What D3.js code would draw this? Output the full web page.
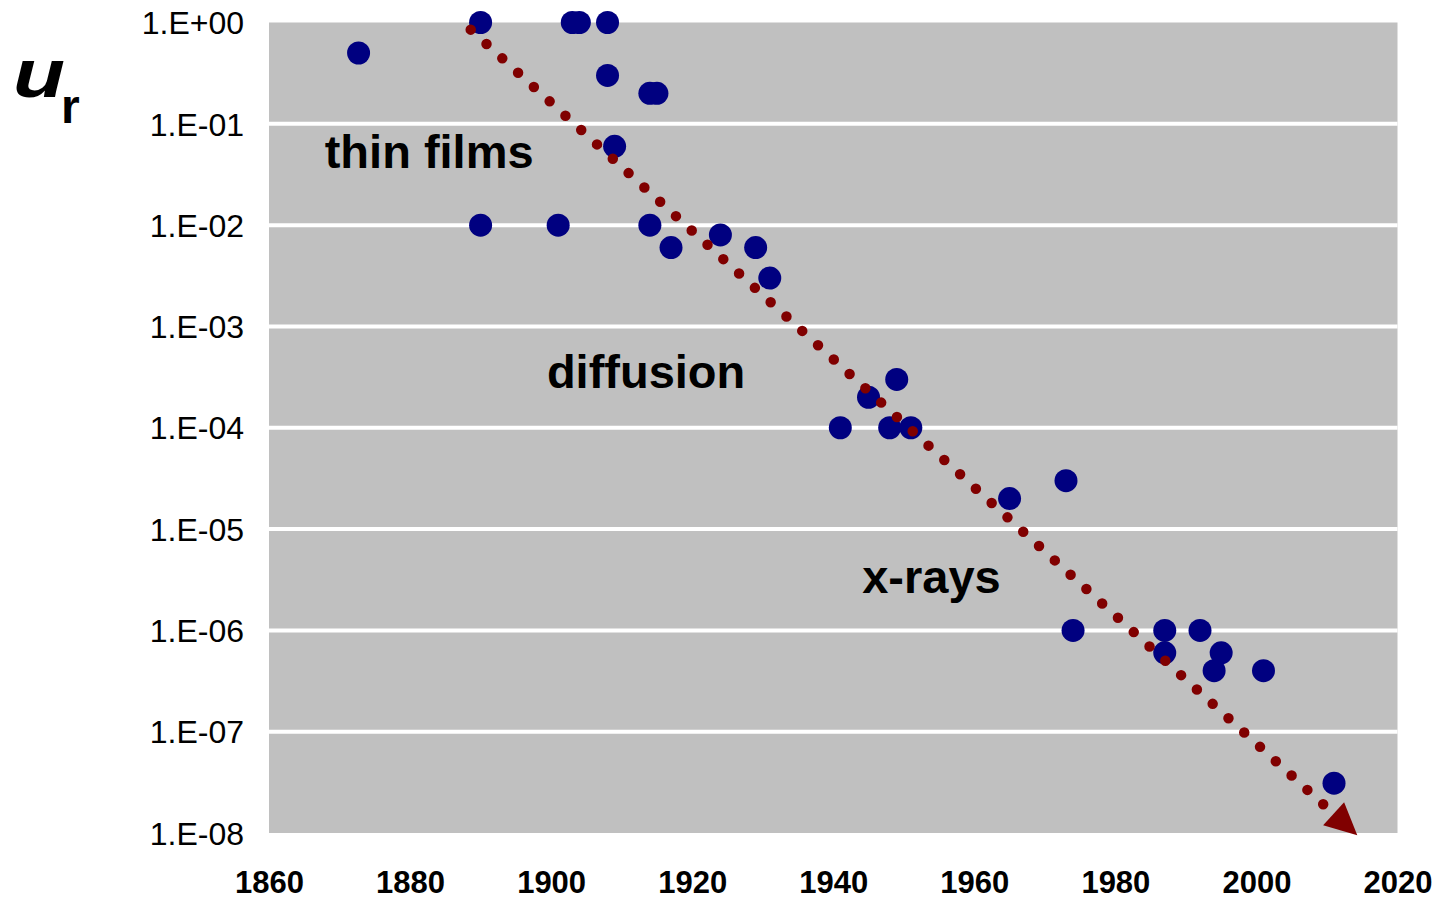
<!DOCTYPE html>
<html>
<head>
<meta charset="utf-8">
<script src="https://cdn.jsdelivr.net/npm/d3@7"></script>
<style>
  body { margin: 0; background: #fff; }
  svg { display: block; font-family: "Liberation Sans", Arial, sans-serif; }
</style>
</head>
<body>
<div id="chart"></div>
<script>
// ---------------------------------------------------------
// DATA
// ---------------------------------------------------------
const years = [1872.7, 1890, 1903, 1904, 1908, 1908, 1914, 1915, 1909,
               1890, 1901, 1914, 1917, 1924, 1929, 1931,
               1941, 1945, 1949, 1948, 1951, 1965, 1973,
               1974, 1987, 1987, 1992, 1995, 1994, 2001, 2011];
const ur = [0.5, 1, 1, 1, 1, 0.3, 0.2, 0.2, 0.06,
            0.01, 0.01, 0.01, 0.006, 0.008, 0.006, 0.003,
            1e-4, 2e-4, 3e-4, 1e-4, 1e-4, 2e-5, 3e-5,
            1e-6, 1e-6, 6e-7, 1e-6, 6e-7, 4e-7, 4e-7, 3.1e-8];

// trend line (start, arrow tip)
const trendYears = [1888.6, 2014.3];
const trendUr = [0.85, 9.5e-9];

const yTicks = [1, 1e-1, 1e-2, 1e-3, 1e-4, 1e-5, 1e-6, 1e-7, 1e-8];
const yTickLabels = ["1.E+00", "1.E-01", "1.E-02", "1.E-03", "1.E-04",
                     "1.E-05", "1.E-06", "1.E-07", "1.E-08"];
const xTicks = [1860, 1880, 1900, 1920, 1940, 1960, 1980, 2000, 2020];

const annotations = [
  { text: "thin films", year: 1867.9, u: 0.0366 },
  { text: "diffusion", year: 1899.4, u: 2.45e-4 },
  { text: "x-rays", year: 1944.1, u: 2.33e-6 }
];

(function () {
  // ---------------------------------------------------------
  // SETUP
  // ---------------------------------------------------------
  const width = 1439, height = 899;
  const pLeft = 269, pRight = 1397.5, pTop = 22.5, pBottom = 833;

  const svg = d3.select("#chart").append("svg")
      .attr("width", width)
      .attr("height", height);

  const x = d3.scaleLinear().domain([1860, 2020]).range([pLeft, pRight]);
  const y = d3.scaleLog().domain([1, 1e-8]).range([pTop, pBottom]);

  // plot background
  svg.append("rect")
      .attr("x", pLeft)
      .attr("y", pTop)
      .attr("width", pRight - pLeft)
      .attr("height", pBottom - pTop)
      .attr("fill", "#c0c0c0");

  // gridlines
  svg.append("g")
    .selectAll("line")
    .data(yTicks.slice(1, -1))
    .enter().append("line")
      .attr("x1", pLeft)
      .attr("x2", pRight)
      .attr("y1", d => y(d))
      .attr("y2", d => y(d))
      .attr("stroke", "#fff")
      .attr("stroke-width", 4);

  // ---------------------------------------------------------
  // AXES
  // ---------------------------------------------------------
  const yAxis = svg.append("g")
      .attr("transform", `translate(${pLeft},0)`)
      .call(d3.axisLeft(y)
        .tickValues(yTicks)
        .tickFormat((d, i) => yTickLabels[i])
        .tickSize(0)
        .tickPadding(25));

  yAxis.select(".domain").remove();
  yAxis.selectAll("text")
      .attr("dy", "0.35em")
      .style("font-family", "'Liberation Sans', Arial, sans-serif")
      .style("font-size", "32px")
      .style("fill", "#000");

  const xAxis = svg.append("g")
      .attr("transform", `translate(0,${pBottom})`)
      .call(d3.axisBottom(x)
        .tickValues(xTicks)
        .tickFormat(d3.format("d"))
        .tickSize(0));

  xAxis.select(".domain").remove();
  xAxis.selectAll("text")
      .attr("y", 60)
      .attr("dy", 0)
      .style("font-family", "'Liberation Sans', Arial, sans-serif")
      .style("font-size", "31px")
      .style("font-weight", "bold")
      .style("fill", "#000");

  // ---------------------------------------------------------
  // POINTS
  // ---------------------------------------------------------
  svg.append("g")
    .selectAll("circle")
    .data(years)
    .enter().append("circle")
      .attr("cx", d => x(d))
      .attr("cy", (d, i) => y(ur[i]))
      .attr("r", 11.5)
      .attr("fill", "#000080");

  // ---------------------------------------------------------
  // TREND (dotted line + arrow head)
  // ---------------------------------------------------------
  const x0 = x(trendYears[0]), y0 = y(trendUr[0]);
  const x1 = x(trendYears[1]), y1 = y(trendUr[1]);
  const len = Math.hypot(x1 - x0, y1 - y0);
  const ux = (x1 - x0) / len, uy = (y1 - y0) / len;
  const headLen = 32, headHalf = 15.6;
  const bx = x1 - ux * headLen, by = y1 - uy * headLen;

  svg.append("line")
      .attr("x1", x0)
      .attr("y1", y0)
      .attr("x2", bx)
      .attr("y2", by)
      .attr("stroke", "#800000")
      .attr("stroke-width", 10.5)
      .attr("stroke-linecap", "round")
      .attr("stroke-dasharray", "0 21.33");

  svg.append("path")
      .attr("d", `M${x1},${y1}L${bx - uy * headHalf},${by + ux * headHalf}L${bx + uy * headHalf},${by - ux * headHalf}Z`)
      .attr("fill", "#800000");

  // ---------------------------------------------------------
  // LABELS
  // ---------------------------------------------------------
  svg.append("g")
    .selectAll("text")
    .data(annotations)
    .enter().append("text")
      .attr("x", d => x(d.year))
      .attr("y", d => y(d.u))
      .style("font-size", "47px")
      .style("font-weight", "bold")
      .style("fill", "#000")
      .text(d => d.text);

  // axis title u_r
  svg.append("text")
      .attr("x", 13)
      .attr("y", 97)
      .attr("textLength", 52)
      .attr("lengthAdjust", "spacingAndGlyphs")
      .style("font-size", "68px")
      .style("font-weight", "bold")
      .style("font-style", "italic")
      .style("fill", "#000")
      .text("u");
  svg.append("text")
      .attr("x", 61)
      .attr("y", 123)
      .style("font-size", "48px")
      .style("font-weight", "bold")
      .style("fill", "#000")
      .text("r");
})();
</script>
</body>
</html>
